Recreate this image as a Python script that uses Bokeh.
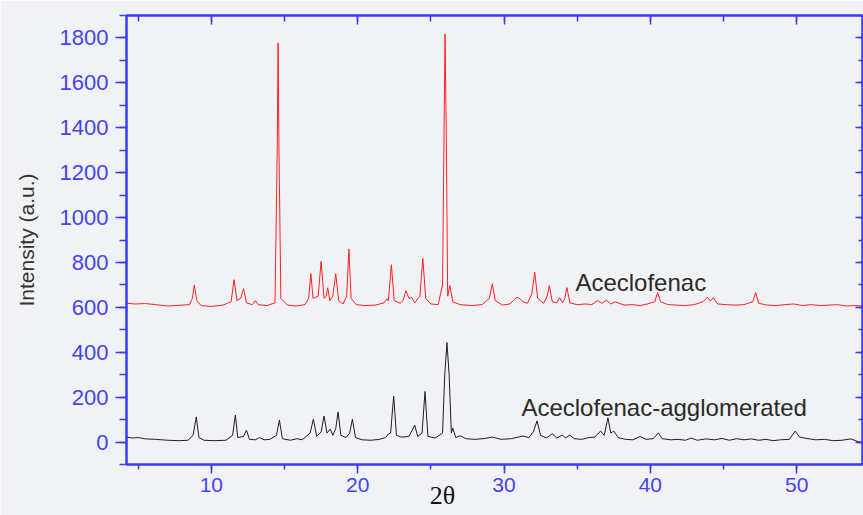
from bokeh.plotting import figure
from bokeh.models import LinearAxis, SingleIntervalTicker, Label, Range1d
from bokeh.embed import file_html
from bokeh.resources import INLINE

# ---- data ----
pure_pts = [(4.2,618),(4.8,615),(5.5,617),(6.2,612),(7.0,606),(7.8,609),(8.5,612),(8.7,640),(8.84,700),(9.0,630),
 (9.3,608),(10.0,604),(10.8,610),(11.35,625),(11.55,723),(11.75,630),(12.0,640),(12.2,683),(12.4,620),(12.8,612),
 (13.0,630),(13.2,612),(13.8,608),(14.35,620),(14.5,1300),(14.56,1778),(14.62,1300),(14.75,640),(15.2,610),(15.8,606),
 (16.4,612),(16.65,640),(16.8,750),(16.95,640),(17.3,650),(17.5,805),(17.7,640),(17.85,650),(17.95,687),(18.1,630),
 (18.3,650),(18.5,750),(18.7,630),(19.0,615),(19.25,650),(19.4,860),(19.55,640),(19.9,612),(20.5,608),(21.2,610),
 (21.8,620),(22.0,638),(22.1,630),(22.3,790),(22.5,630),(22.9,618),(23.1,630),(23.3,674),(23.5,640),(23.7,644),
 (23.9,620),(24.25,650),(24.45,818),(24.65,640),(25.0,615),(25.5,612),(25.8,700),(25.92,1500),(25.97,1817),(26.05,1400),
 (26.15,650),(26.3,697),(26.5,625),(27.0,612),(27.8,608),(28.5,612),(29.0,640),(29.2,705),(29.4,630),(29.9,610),
 (30.4,615),(30.7,635),(30.9,645),(31.1,638),(31.3,625),(31.6,618),(31.9,660),(32.1,756),(32.3,640),(32.7,618),
 (32.95,650),(33.1,697),(33.3,625),(33.6,620),(33.8,643),(34.0,620),(34.15,640),(34.3,688),(34.5,620),(35.0,612),
 (35.6,615),(36.0,612),(36.4,630),(36.7,618),(37.0,632),(37.3,615),(37.6,625),(38.2,610),(38.8,612),(39.3,608),
 (39.8,615),(40.3,625),(40.5,666),(40.7,625),(41.2,612),(41.8,610),(42.4,608),(43.0,612),(43.6,625),(43.9,645),
 (44.1,628),(44.3,643),(44.6,615),(45.2,612),(45.8,610),(46.4,612),(47.0,625),(47.2,666),(47.4,618),(48.0,610),
 (48.6,608),(49.2,612),(49.8,615),(50.4,608),(51.0,612),(51.6,608),(52.2,610),(52.8,612),(53.4,606),(54.0,608),
 (54.6,605)]

aggl_pts = [(4.2,22),(4.6,18),(5.0,20),(5.5,14),(6.2,12),(7.0,8),(7.8,6),(8.4,8),(8.75,30),(8.97,112),
 (9.15,20),(9.5,8),(10.2,6),(11.0,8),(11.45,30),(11.64,120),(11.8,20),(12.2,25),(12.4,53),(12.6,12),
 (13.0,10),(13.3,20),(13.6,10),(14.0,12),(14.45,30),(14.65,98),(14.85,15),(15.4,8),(15.86,15),(16.2,10),
 (16.75,40),(16.97,102),(17.2,25),(17.5,45),(17.7,116),(17.9,40),(18.13,58),(18.3,30),(18.5,60),(18.66,134),
 (18.85,30),(19.2,20),(19.45,40),(19.64,102),(19.85,20),(20.3,10),(20.9,8),(21.5,12),(21.9,20),(22.1,36),
 (22.25,40),(22.46,205),(22.65,30),(23.0,22),(23.5,25),(23.9,75),(24.1,25),(24.4,40),(24.6,225),(24.8,25),
 (25.3,18),(25.8,40),(25.95,300),(26.1,443),(26.25,300),(26.4,40),(26.5,62),(26.7,20),(27.0,28),(27.4,15),
 (28.0,12),(28.6,15),(29.2,22),(29.8,12),(30.5,15),(31.3,27),(31.7,20),(32.0,45),(32.26,94),(32.5,30),
 (32.9,18),(33.3,37),(33.6,18),(34.0,31),(34.2,18),(34.5,31),(34.8,15),(35.3,12),(35.8,20),(36.2,22),
 (36.6,49),(36.85,30),(37.1,108),(37.3,40),(37.5,49),(37.8,20),(38.3,12),(38.8,10),(39.3,25),(39.7,12),
 (40.2,15),(40.55,41),(40.8,15),(41.4,10),(41.9,12),(42.4,8),(42.8,18),(43.2,8),(43.8,14),(44.4,10),
 (44.9,16),(45.4,8),(45.9,15),(46.4,10),(46.9,14),(47.4,8),(47.9,12),(48.4,6),(48.9,10),(49.5,12),
 (49.9,49),(50.2,22),(50.7,16),(51.3,10),(51.9,12),(52.5,6),(53.1,8),(53.7,14),(54.2,2),(54.6,-4)]

pure_x = [p[0] for p in pure_pts]
pure_y = [p[1] for p in pure_pts]
aggl_x = [p[0] for p in aggl_pts]
aggl_y = [p[1] for p in aggl_pts]

label_pure = "Aceclofenac"
label_aggl = "Aceclofenac-agglomerated"
x_title = "2\u03b8"
y_title = "Intensity (a.u.)"

BLUE = "#3a3aff"
LBLUE = "#4444f2"
BG = "#f1f2f5"

p = figure(width=863, height=515, output_backend="svg", toolbar_location=None,
           x_range=Range1d(4.2, 54.5), y_range=Range1d(-100, 1900),
           x_axis_location=None, y_axis_location=None,
           min_border_left=126, min_border_right=1, min_border_top=15, min_border_bottom=51)
p.background_fill_color = BG
p.border_fill_color = BG
p.outline_line_color = BLUE
p.outline_line_width = 2
p.xgrid.visible = False
p.ygrid.visible = False

def style(ax, labels=True):
    ax.axis_line_color = BLUE
    ax.axis_line_width = 2
    ax.major_tick_line_color = BLUE
    ax.minor_tick_line_color = BLUE
    ax.major_tick_line_width = 1.5
    ax.minor_tick_line_width = 1.5
    ax.major_label_text_color = LBLUE
    ax.major_label_text_font = "Liberation Sans"
    ax.major_label_text_font_size = "22px"
    if not labels:
        ax.major_label_text_font_size = "0px"
        ax.major_label_text_alpha = 0
        ax.major_label_standoff = 0

# trailing em spaces shift the centred axis title left, as in the reference
xb = LinearAxis(ticker=SingleIntervalTicker(interval=10, num_minor_ticks=2),
                axis_label=x_title + "\u2003\u2003\u2003\u2003")
style(xb)
xb.major_label_text_font_size = "21px"
xb.major_tick_out = 9; xb.major_tick_in = 0
xb.minor_tick_out = 5; xb.minor_tick_in = 0
xb.major_label_standoff = 4
xb.axis_label_standoff = -14
xb.axis_label_text_font = "Liberation Serif"
xb.axis_label_text_font_style = "normal"
xb.axis_label_text_font_size = "26px"
xb.axis_label_text_color = "#111111"
p.add_layout(xb, "below")

xt = LinearAxis(ticker=SingleIntervalTicker(interval=10, num_minor_ticks=2))
style(xt, labels=False)
xt.major_tick_out = 0; xt.major_tick_in = 9
xt.minor_tick_out = 0; xt.minor_tick_in = 6
p.add_layout(xt, "above")

yl = LinearAxis(ticker=SingleIntervalTicker(interval=200, num_minor_ticks=2), axis_label=y_title)
style(yl)
yl.major_tick_out = 11; yl.major_tick_in = 0
yl.minor_tick_out = 7; yl.minor_tick_in = 0
yl.major_label_standoff = 7
yl.axis_label_standoff = 19
yl.axis_label_text_font = "Liberation Sans"
yl.axis_label_text_font_style = "normal"
yl.axis_label_text_font_size = "21px"
yl.axis_label_text_color = "#333333"
p.add_layout(yl, "left")

yr = LinearAxis(ticker=SingleIntervalTicker(interval=200, num_minor_ticks=2))
style(yr, labels=False)
yr.major_tick_out = 0; yr.major_tick_in = 7
yr.minor_tick_out = 0; yr.minor_tick_in = 4
p.add_layout(yr, "right")

p.line(pure_x, pure_y, line_color="#ff2020", line_width=1)
p.line(aggl_x, aggl_y, line_color="#1e1e1e", line_width=1)

p.add_layout(Label(x=34.88, y=710, text=label_pure, text_font="Liberation Sans",
                   text_font_size="24px", text_color="#2a2a2a", text_baseline="alphabetic"))
p.add_layout(Label(x=31.19, y=156, text=label_aggl, text_font="Liberation Sans",
                   text_font_size="24px", text_color="#2a2a2a", text_baseline="alphabetic"))

open("out.html", "w").write(file_html(p, INLINE))
